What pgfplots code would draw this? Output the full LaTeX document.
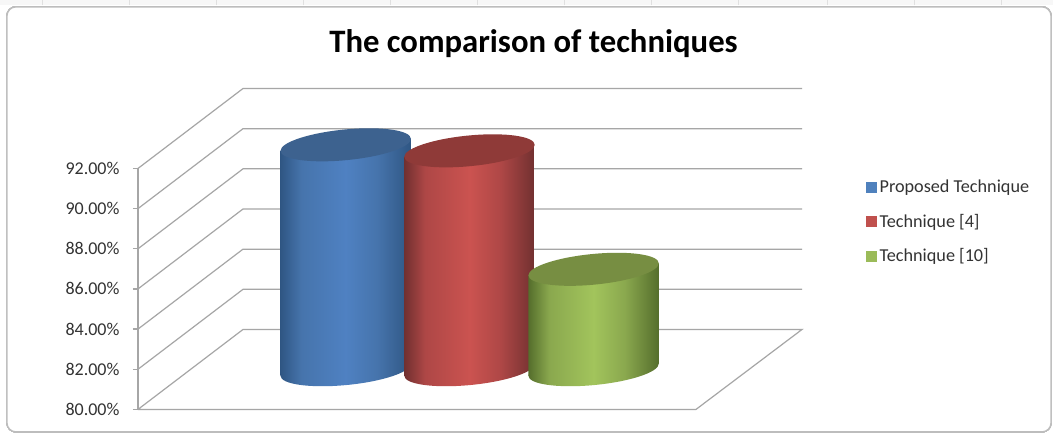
\documentclass[border=0pt]{standalone}
\usepackage{pgfplots}
\pgfplotsset{compat=1.18}
\usepackage{fontspec}
\setmainfont{Carlito}

\definecolor{gridgray}{HTML}{A6A6A6}
\definecolor{labelgray}{HTML}{333333}
\definecolor{framegray}{HTML}{BDBDBD}

\definecolor{blueedge}{HTML}{2F5683}
\definecolor{bluemid}{HTML}{4674AC}
\definecolor{bluelight}{HTML}{4F81C2}
\definecolor{bluetop}{HTML}{3D628F}
\definecolor{blueleg}{HTML}{4F81BD}
\definecolor{rededge}{HTML}{713030}
\definecolor{redmid}{HTML}{AE4746}
\definecolor{redlight}{HTML}{CB5350}
\definecolor{redtop}{HTML}{8F3A38}
\definecolor{redleg}{HTML}{C0504D}
\definecolor{greenedge}{HTML}{556E2C}
\definecolor{greenmid}{HTML}{8AA84E}
\definecolor{greenlight}{HTML}{A2C45C}
\definecolor{greentop}{HTML}{778E42}
\definecolor{greenleg}{HTML}{9BBB59}

% Side shading of a cylinder; the path spans the stops from 25bp to 75bp.
\newcommand\cylshading[1]{%
  \pgfdeclarehorizontalshading{#1cyl}{100bp}{%
    color(0bp)=(#1edge); color(25bp)=(#1edge); color(33bp)=(#1mid);
    color(50bp)=(#1light); color(62bp)=(#1mid); color(75bp)=(#1edge);
    color(100bp)=(#1edge)}%
  % Cap and base of the cylinder, sheared by the chart's perspective.
  \pgfdeclareplotmark{#1 cap}{%
    \pgfpathellipse{\pgfpointorigin}{\pgfpoint{65.2pt}{6pt}}{\pgfpoint{0pt}{15.4pt}}%
    \pgfsetfillcolor{#1top}\pgfusepath{fill}}%
  \pgfdeclareplotmark{#1 base}{%
    \pgfpathellipse{\pgfpointorigin}{\pgfpoint{65.2pt}{6pt}}{\pgfpoint{0pt}{15.4pt}}%
    \pgfshadepath{#1cyl}{0}\pgfusepath{discard}}%
}
\cylshading{blue}
\cylshading{red}
\cylshading{green}

\pgfplotsset{
  wall/.style={gridgray, line width=1.2pt, forget plot},
  cylinder part/.style={forget plot, yshift=39.7pt},
  cylinder body/.style={cylinder part, draw=none, shading=#1cyl},
  cylinder mark/.style={cylinder part, only marks, mark=#1, mark options={draw=none}},
  legend swatch/.style={legend image code/.code={
      \fill[#1] (-1pt,-5pt) rectangle (9pt,5pt);
      \path (11pt,0pt);}},
}

\begin{document}
\begin{tikzpicture}
\begin{axis}[
  scale only axis,
  width=558pt, height=240.96pt,
  xmin=138, xmax=696, ymin=80, ymax=92,
  clip=false,
  clip mode=individual,
  clip marker paths=true,
  axis on top,
  axis x line=none,
  axis y line=left,
  axis line style={gridgray, line width=1.2pt, -},
  ytick={80,82,...,92},
  tick align=outside,
  major tick length=5pt,
  tick style={gridgray, line width=1.2pt},
  yticklabel={\pgfmathprintnumber[fixed, fixed zerofill, precision=2,
                assume math mode=true]{\tick}\%},
  yticklabel style={labelgray, font=\fontsize{18}{18}\selectfont, xshift=-10pt},
  title={The comparison of techniques},
  title style={at={(axis cs:533.5,97.48)}, anchor=base, black,
               font=\fontsize{32.7}{33}\selectfont\bfseries},
  legend cell align=left,
  legend style={at={(axis cs:866,89.36)}, anchor=west, draw=none, fill=none,
                font=\fontsize{18.2}{18}\selectfont, text=labelgray,
                row sep=18pt, inner sep=0pt,
                /tikz/every node/.append style={inner sep=1pt}},
]
% sheet behind the chart
\fill[white] (axis cs:0,78.805) rectangle (axis cs:1053,100.369);
\fill[black!3] (axis cs:0,100.12) rectangle (axis cs:1053,100.369);
\foreach \cx in {42,129,216,303,390,477,564,651,738,827,914,1001}
  \edef\temp{\noexpand\draw[black!12, line width=0.8pt]
     (axis cs:\cx,100.12) -- (axis cs:\cx,100.369);}\temp
\draw[framegray, line width=1.3pt, rounded corners=9pt, fill=white]
  (axis cs:7,78.88) rectangle (axis cs:1051,100.045);

% back wall and side wall
\addplot[wall] coordinates {(138,82) (243,85.98) (802,85.98)};
\addplot[wall] coordinates {(138,84) (243,87.98) (802,87.98)};
\addplot[wall] coordinates {(138,86) (243,89.98) (802,89.98)};
\addplot[wall] coordinates {(138,88) (243,91.98) (802,91.98)};
\addplot[wall] coordinates {(138,90) (243,93.98) (802,93.98)};
\addplot[wall] coordinates {(138,92) (243,95.98) (802,95.98)};
% floor
\addplot[wall] coordinates {(138,80) (696,80) (802,83.98) (243,83.98) (138,80)};

\addlegendimage{legend swatch=blueleg}
\addlegendentry{Proposed Technique}
\addlegendimage{legend swatch=redleg}
\addlegendentry{Technique [4]}
\addlegendimage{legend swatch=greenleg}
\addlegendentry{Technique [10]}

% Each body leans with the cap: its sides end 0.3 below and above the value.
% Proposed Technique, 91.2
\addplot[cylinder mark=blue base] coordinates {(345.7,80)};
\addplot[cylinder body=blue] coordinates {(280.5,79.7) (280.5,90.9) (410.9,91.5) (410.9,80.3)} -- cycle;
\addplot[cylinder mark=blue cap] coordinates {(345.7,91.2)};
% Technique [4], 90.9
\addplot[cylinder mark=red base] coordinates {(469.5,80)};
\addplot[cylinder body=red] coordinates {(404.3,79.7) (404.3,90.6) (534.7,91.2) (534.7,80.3)} -- cycle;
\addplot[cylinder mark=red cap] coordinates {(469.5,90.9)};
% Technique [10], 85
\addplot[cylinder mark=green base] coordinates {(593.6,80)};
\addplot[cylinder body=green] coordinates {(528.4,79.7) (528.4,84.7) (658.8,85.3) (658.8,80.3)} -- cycle;
\addplot[cylinder mark=green cap] coordinates {(593.6,85)};
\end{axis}
\end{tikzpicture}
\end{document}
